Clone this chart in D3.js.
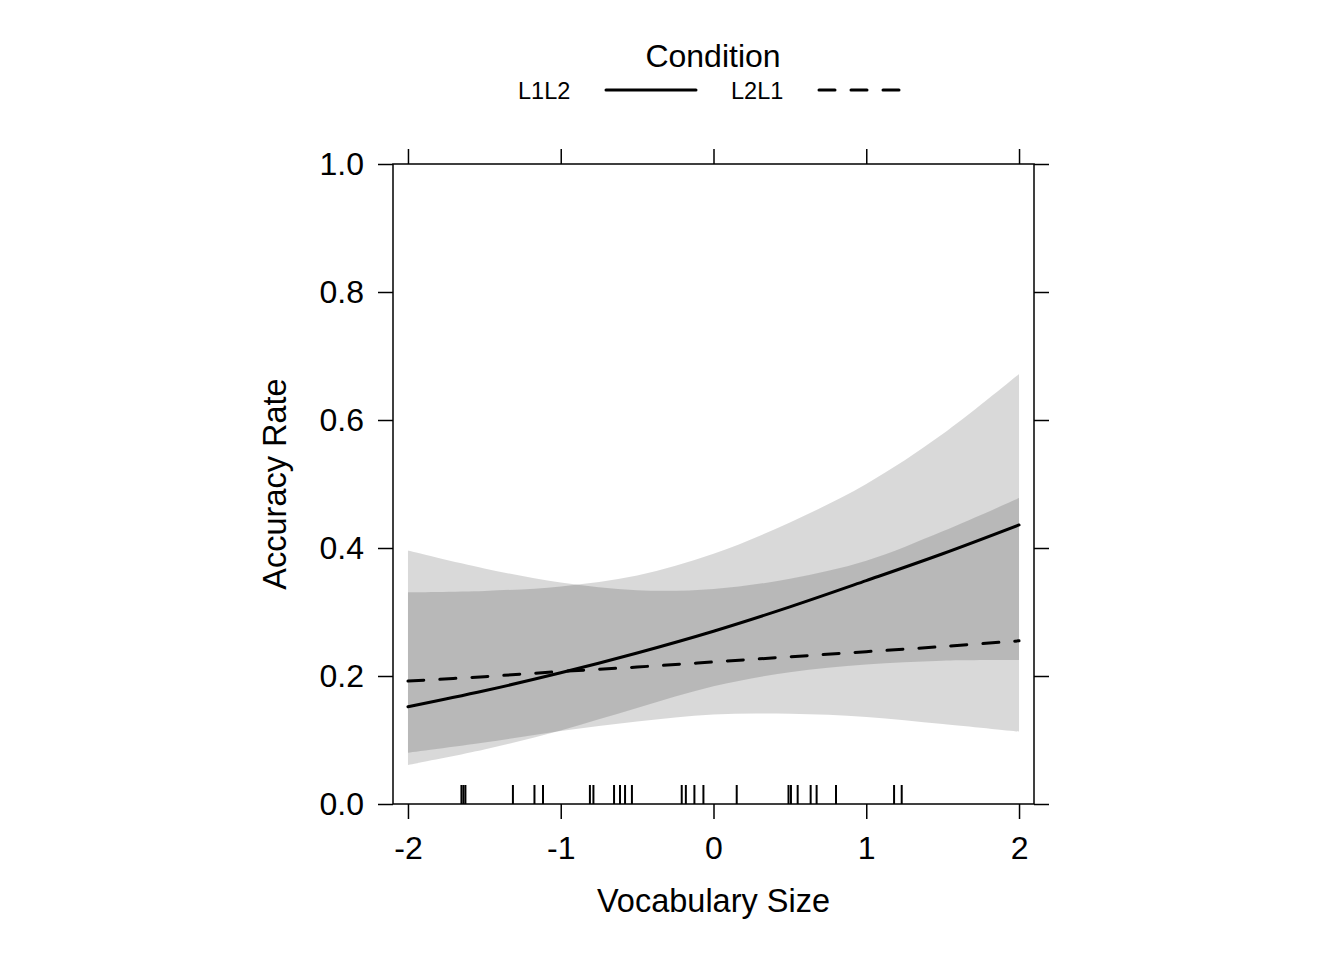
<!DOCTYPE html>
<html>
<head>
<meta charset="utf-8">
<script src="https://cdn.jsdelivr.net/npm/d3@7"></script>
<style>
  body { margin: 0; background: #fff; }
  text { font-family: "Liberation Sans", Arial, Helvetica, sans-serif; fill: #000; }
</style>
</head>
<body>
<svg id="chart" width="1344" height="960"></svg>
<script>
// --- data ---
const vocab = [-2, -1.5, -1, -0.5, 0, 0.5, 1, 1.5, 2];

const l1l2Fit   = [0.152, 0.177, 0.205, 0.236, 0.270, 0.308, 0.349, 0.391, 0.436];
const l1l2Lower = [0.061, 0.085, 0.115, 0.150, 0.184, 0.206, 0.218, 0.224, 0.225];
const l1l2Upper = [0.331, 0.333, 0.340, 0.357, 0.391, 0.440, 0.500, 0.578, 0.672];

const l2l1Fit   = [0.192, 0.199, 0.207, 0.214, 0.222, 0.230, 0.238, 0.246, 0.255];
const l2l1Lower = [0.080, 0.096, 0.114, 0.129, 0.140, 0.141, 0.136, 0.125, 0.113];
const l2l1Upper = [0.396, 0.368, 0.346, 0.334, 0.336, 0.352, 0.380, 0.426, 0.478];

// observed vocabulary sizes (rug)
const rugX = [-1.650, -1.637, -1.624, -1.313, -1.172, -1.116, -0.809, -0.786,
              -0.651, -0.612, -0.579, -0.534, -0.208, -0.181, -0.125, -0.066,
              0.152, 0.491, 0.507, 0.551, 0.636, 0.675, 0.802, 1.182, 1.232];

const xTicks = [-2, -1, 0, 1, 2];
const yTicks = [0, 0.2, 0.4, 0.6, 0.8, 1.0];

const conditions = ["L1L2", "L2L1"];

// --- layout ---
const svg = d3.select("#chart");
const pLeft = 393, pRight = 1034, pTop = 164, pBottom = 804;

const x = d3.scaleLinear().domain([-2.098, 2.098]).range([pLeft, pRight]);
const y = d3.scaleLinear().domain([0, 1]).range([pBottom, pTop]);

const series = [
  { name: conditions[0], fit: l1l2Fit, lo: l1l2Lower, hi: l1l2Upper, dash: null },
  { name: conditions[1], fit: l2l1Fit, lo: l2l1Lower, hi: l2l1Upper, dash: "16,16" }
];

const area = d3.area()
  .x(d => x(d.v))
  .y0(d => y(d.lo))
  .y1(d => y(d.hi))
  .curve(d3.curveCatmullRom);

const line = d3.line()
  .x(d => x(d.v))
  .y(d => y(d.fit))
  .curve(d3.curveCatmullRom);

const plot = svg.append("g");

// confidence bands
series.forEach(s => {
  const pts = vocab.map((v, i) => ({ v, lo: s.lo[i], hi: s.hi[i] }));
  plot.append("path")
    .attr("d", area(pts))
    .attr("fill", "#000")
    .attr("fill-opacity", 0.15)
    .attr("stroke", "none");
});

// fitted lines
series.forEach(s => {
  const pts = vocab.map((v, i) => ({ v, fit: s.fit[i] }));
  plot.append("path")
    .attr("d", line(pts))
    .attr("fill", "none")
    .attr("stroke", "#000")
    .attr("stroke-width", 3)
    .attr("stroke-linecap", "round")
    .attr("stroke-dasharray", s.dash);
});

// rug
plot.selectAll(".rug")
  .data(rugX)
  .enter().append("line")
  .attr("class", "rug")
  .attr("x1", d => x(d)).attr("x2", d => x(d))
  .attr("y1", pBottom - 19).attr("y2", pBottom)
  .attr("stroke", "#000")
  .attr("stroke-width", 2);

// panel box
svg.append("rect")
  .attr("x", pLeft).attr("y", pTop)
  .attr("width", pRight - pLeft).attr("height", pBottom - pTop)
  .attr("fill", "none").attr("stroke", "#000").attr("stroke-width", 1.5);

// axes (ticks on all four sides, labels left & bottom)
const tickLen = 15;
const axB = d3.axisBottom(x).tickValues(xTicks).tickSize(tickLen).tickPadding(17)
  .tickFormat(d => String(d));
const axT = d3.axisTop(x).tickValues(xTicks).tickSize(tickLen).tickFormat("");
const axL = d3.axisLeft(y).tickValues(yTicks).tickSize(tickLen).tickPadding(14)
  .tickFormat(d3.format(".1f"));
const axR = d3.axisRight(y).tickValues(yTicks).tickSize(tickLen).tickFormat("");

function styleAxis(g) {
  g.select(".domain").remove();
  g.selectAll(".tick line").attr("stroke", "#000").attr("stroke-width", 1.5);
  g.selectAll(".tick text").style("font-size", "32px")
    .style("font-family", "'Liberation Sans', Arial, sans-serif").attr("fill", "#000");
}

svg.append("g").attr("transform", `translate(0,${pBottom})`).call(axB).call(styleAxis);
svg.append("g").attr("transform", `translate(0,${pTop})`).call(axT).call(styleAxis);
svg.append("g").attr("transform", `translate(${pLeft},0)`).call(axL).call(styleAxis);
svg.append("g").attr("transform", `translate(${pRight},0)`).call(axR).call(styleAxis);

// axis titles
svg.append("text")
  .attr("x", (pLeft + pRight) / 2).attr("y", 912)
  .attr("text-anchor", "middle")
  .style("font-size", "32.5px")
  .text("Vocabulary Size");

svg.append("text")
  .attr("transform", `translate(286,${(pTop + pBottom) / 2}) rotate(-90)`)
  .attr("text-anchor", "middle")
  .style("font-size", "32.5px")
  .text("Accuracy Rate");

// legend
const legend = svg.append("g");
legend.append("text")
  .attr("x", 713).attr("y", 67)
  .attr("text-anchor", "middle")
  .style("font-size", "32px")
  .text("Condition");

const keyX = [518, 731];
series.forEach((s, i) => {
  legend.append("text")
    .attr("x", keyX[i]).attr("y", 99)
    .style("font-size", "23.5px")
    .text(s.name);
  legend.append("line")
    .attr("x1", keyX[i] + 88).attr("x2", keyX[i] + 178)
    .attr("y1", 90).attr("y2", 90)
    .attr("stroke", "#000")
    .attr("stroke-width", 3)
    .attr("stroke-linecap", "round")
    .attr("stroke-dasharray", s.dash);
});
</script>
</body>
</html>
